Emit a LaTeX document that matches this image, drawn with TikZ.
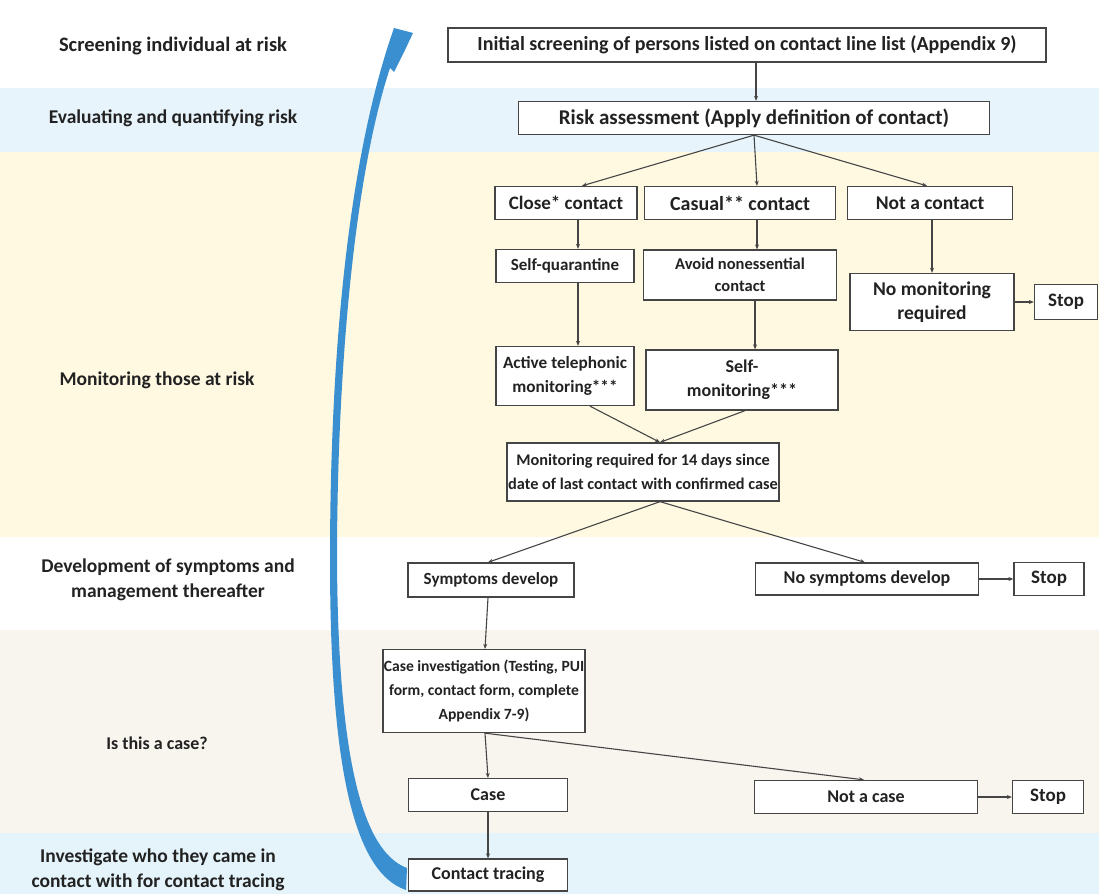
\documentclass[tikz,border=0pt]{standalone}
\usepackage{fontspec}
\setmainfont{Carlito}
\usetikzlibrary{arrows.meta}
\definecolor{bandblue}{HTML}{E7F4FB}
\definecolor{bandyellow}{HTML}{FFF9E2}
\definecolor{bandbeige}{HTML}{F8F4EE}
\definecolor{bandblue2}{HTML}{E4F4FA}
\definecolor{arrowblue}{HTML}{3A8FD0}
\definecolor{boxline}{HTML}{454545}
\definecolor{txt}{HTML}{222222}
\newcommand{\fs}[1]{\fontsize{#1}{24}\selectfont\bfseries}
\tikzset{
  flowbox/.style={draw=boxline, line width=1.3pt, fill=white, inner sep=0pt, align=center, text=txt,
     font=\fs{18}},
  sidelabel/.style={align=center, text=txt, font=\fontsize{19.5}{25}\selectfont\bfseries},
  arr/.style={draw=boxline, line width=1.1pt, -{Stealth[length=5pt,width=4pt]}},
}
\begin{document}
\begin{tikzpicture}[x=1pt,y=-1pt]
\useasboundingbox (0,0) rectangle (1099,894);
% background bands
\fill[white] (0,0) rectangle (1099,88);
\fill[bandblue] (0,88) rectangle (1099,152);
\fill[bandyellow] (0,152) rectangle (1099,537);
\fill[white] (0,537) rectangle (1099,630);
\fill[bandbeige] (0,630) rectangle (1099,833);
\fill[bandblue2] (0,833) rectangle (1099,894);

% side labels
\node[sidelabel, font=\fontsize{20.5}{25}\selectfont\bfseries] (l1) at (173,46) {Screening individual at risk};
\node[sidelabel] (l2) at (173,118) {Evaluating and quantifying risk};
\node[sidelabel] (l3) at (157,380) {Monitoring those at risk};
\node[sidelabel] (l4) at (168,580) {Development of symptoms and\\management thereafter};
\node[sidelabel, font=\fontsize{18}{25}\selectfont\bfseries] (l5) at (157,743) {Is this a case?};
\node[sidelabel] (l6) at (158,870) {Investigate who they came in\\contact with for contact tracing};

% big curved return arrow
\fill[arrowblue] (406,890) .. controls (352,872) and (330,760) .. (330,560)
  .. controls (330,380) and (344,170) .. (394,28)
  -- (413,33) -- (405,50) -- (394,72) -- (390,68)
  .. controls (353,180) and (337,380) .. (337,560)
  .. controls (338,740) and (358,850) .. (407,868) -- cycle;

% boxes
\node[flowbox, minimum width=598, minimum height=34, font=\fs{20}] (init) at (747,45) {Initial screening of persons listed on contact line list (Appendix 9)};
\node[flowbox, minimum width=471, minimum height=33, font=\fs{21}] (risk) at (754,118) {Risk assessment (Apply definition of contact)};
\node[flowbox, minimum width=142, minimum height=33, font=\fs{19}] (close) at (566,203) {Close* contact};
\node[flowbox, minimum width=191, minimum height=33, font=\fs{20}] (casual) at (740,203) {Casual** contact};
\node[flowbox, minimum width=165, minimum height=33, font=\fs{19.5}] (notc) at (930,203) {Not a contact};
\node[flowbox, minimum width=138, minimum height=33, font=\fs{17}] (quar) at (565,266) {Self-quarantine};
\node[flowbox, minimum width=193, minimum height=50, font=\fontsize{16.5}{22}\selectfont\bfseries] (avoid) at (740,275) {Avoid nonessential\\contact};
\node[flowbox, minimum width=164, minimum height=57, font=\fs{19.5}] (nomon) at (932,302) {No monitoring\\required};
\node[flowbox, minimum width=63, minimum height=35, font=\fs{19}] (stop1) at (1066,302) {Stop};
\node[flowbox, minimum width=138, minimum height=59, font=\fs{17.2}] (active) at (565,376) {Active telephonic\\monitoring***};
\node[flowbox, minimum width=192, minimum height=60] (selfmon) at (742,380) {Self-\\monitoring***};
\node[flowbox, minimum width=272, minimum height=58, font=\fs{16.3}] (mon14) at (643,472) {Monitoring required for 14 days since\\date of last contact with confirmed case};
\node[flowbox, minimum width=166, minimum height=34, font=\fs{17}] (symp) at (491,580) {Symptoms develop};
\node[flowbox, minimum width=223, minimum height=32] (nosymp) at (867,579) {No symptoms develop};
\node[flowbox, minimum width=70, minimum height=33, font=\fs{19}] (stop2) at (1049,579) {Stop};
\node[flowbox, minimum width=202, minimum height=83, font=\fs{15.6}] (inv) at (484,691) {Case investigation (Testing, PUI\\form, contact form, complete\\Appendix 7-9)};
\node[flowbox, minimum width=159, minimum height=33] (case) at (488,795) {Case};
\node[flowbox, minimum width=223, minimum height=33] (notcase) at (866,797) {Not a case};
\node[flowbox, minimum width=71, minimum height=33, font=\fs{19}] (stop3) at (1048,797) {Stop};
\node[flowbox, minimum width=159, minimum height=32] (trace) at (488,875) {Contact tracing};

% connectors
\draw[arr] ([xshift=9pt]init.south) -- ([xshift=2pt]risk.north);
\draw[arr] (risk.south) -- ([xshift=16pt]close.north);
\draw[arr] (risk.south) -- ([xshift=17pt]casual.north);
\draw[arr] (risk.south) -- ([xshift=-3pt]notc.north);
\draw[arr] ([xshift=12pt]close.south) -- ([xshift=13pt]quar.north);
\draw[arr] ([xshift=17pt]casual.south) -- ([xshift=17pt]avoid.north);
\draw[arr] ([xshift=2pt]notc.south) -- (nomon.north);
\draw[arr] (nomon.east) -- (stop1.west);
\draw[arr] ([xshift=13pt]quar.south) -- ([xshift=13pt]active.north);
\draw[arr] ([xshift=15pt]avoid.south) -- ([xshift=13pt]selfmon.north);
\draw[arr] ([xshift=25pt]active.south) -- ([xshift=17pt]mon14.north);
\draw[arr] ([xshift=3pt]selfmon.south) -- ([xshift=17pt]mon14.north);
\draw[arr] ([xshift=17pt]mon14.south) -- ([xshift=-3pt]symp.north);
\draw[arr] ([xshift=17pt]mon14.south) -- ([xshift=-2pt]nosymp.north);
\draw[arr] (nosymp.east) -- (stop2.west);
\draw[arr] ([xshift=-3pt]symp.south) -- ([xshift=1pt]inv.north);
\draw[arr] ([xshift=1pt]inv.south) -- (case.north);
\draw[arr] ([xshift=1pt]inv.south) -- ([xshift=-2pt]notcase.north);
\draw[arr] (notcase.east) -- (stop3.west);
\draw[arr] (case.south) -- (trace.north);
\end{tikzpicture}
\end{document}
